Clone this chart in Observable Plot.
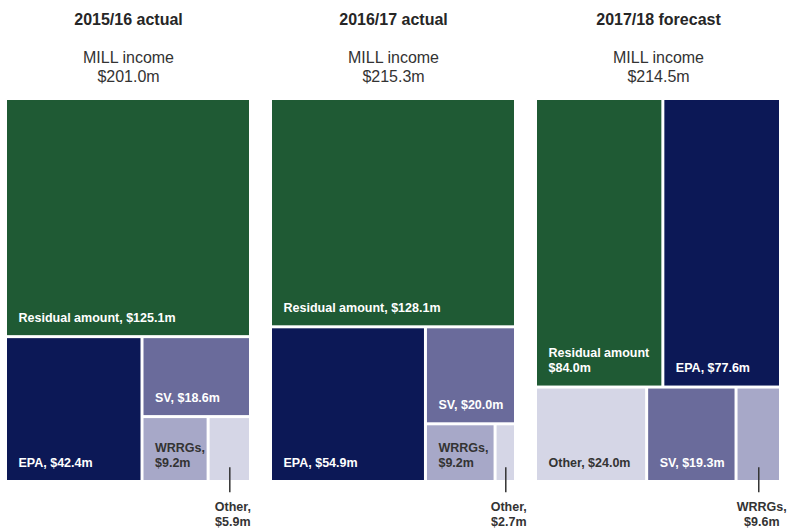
<!DOCTYPE html>
<html>
<head>
<meta charset="utf-8">
<script src="https://cdn.jsdelivr.net/npm/d3@7"></script>
<script src="https://cdn.jsdelivr.net/npm/@observablehq/plot@0.6"></script>
<style>
  body { margin: 0; background: #fff; }
</style>
</head>
<body>
<div id="chart"></div>
<script>
// ---- Data ----
const years = ["2015/16 actual", "2016/17 actual", "2017/18 forecast"];
const totals = ["$201.0m", "$215.3m", "$214.5m"];
const categories = ["Residual amount", "EPA", "SV", "WRRGs", "Other"];

const values1516 = [125.1, 42.4, 18.6, 9.2, 5.9];
const values1617 = [128.1, 54.9, 20.0, 9.2, 2.7];
const values1718 = [84.0, 77.6, 19.3, 9.6, 24.0];

const labels1516 = ["Residual amount, $125.1m", "EPA, $42.4m", "SV, $18.6m", "WRRGs,\n$9.2m", "Other,\n$5.9m"];
const labels1617 = ["Residual amount, $128.1m", "EPA, $54.9m", "SV, $20.0m", "WRRGs,\n$9.2m", "Other,\n$2.7m"];
const labels1718 = ["Residual amount\n$84.0m", "EPA, $77.6m", "SV, $19.3m", "WRRGs,\n$9.6m", "Other, $24.0m"];

// how the cells are grouped in each treemap
const nesting1516 = ["Residual amount", ["EPA", ["SV", ["WRRGs", "Other"]]]];
const nesting1617 = ["Residual amount", ["EPA", ["SV", ["WRRGs", "Other"]]]];
const nesting1718 = [["Residual amount", "EPA"], ["Other", "SV", "WRRGs"]];

// cells labelled outside with a leader line
const callouts = ["Other", "Other", "WRRGs"];

const colors = ["#1f5a34", "#0c1856", "#6a6b9b", "#a7a8c8", "#d5d6e6"];
const lightText = ["Residual amount", "EPA", "SV"];

// ---- Layout (d3 treemap in unit space) ----
const panels = [
  {values: values1516, labels: labels1516, nesting: nesting1516},
  {values: values1617, labels: labels1617, nesting: nesting1617},
  {values: values1718, labels: labels1718, nesting: nesting1718}
];

const tile = (node, x0, y0, x1, y1) =>
  (node.depth & 1 ? d3.treemapDice : d3.treemapSlice)(node, x0, y0, x1, y1);

const cells = [];
panels.forEach((p, i) => {
  const toNode = (item) => typeof item === "string"
    ? {name: item, value: p.values[categories.indexOf(item)], label: p.labels[categories.indexOf(item)]}
    : {children: item.map(toNode)};
  const root = d3.hierarchy(toNode(p.nesting)).sum(d => d.value || 0);
  d3.treemap().tile(tile).size([1, 1]).round(false)(root);
  for (const leaf of root.leaves()) {
    cells.push({
      year: years[i],
      name: leaf.data.name,
      value: leaf.data.value,
      label: leaf.data.label,
      callout: callouts[i] === leaf.data.name,
      x0: leaf.x0, x1: leaf.x1, y0: leaf.y0, y1: leaf.y1,
      xm: (leaf.x0 + leaf.x1) / 2
    });
  }
});

const titles = years.map((y, i) => ({year: y, total: totals[i]}));
const inside = cells.filter(d => !d.callout);
const outside = cells.filter(d => d.callout);

const chart = Plot.plot({
  width: 788,
  height: 529,
  marginLeft: 5.5,
  marginRight: 7.5,
  marginTop: 98.5,
  marginBottom: 47.5,
  style: {fontFamily: "'Liberation Sans', Arial, Helvetica, sans-serif", background: "#fff", overflow: "visible"},
  fx: {domain: years, paddingInner: 20 / 265, paddingOuter: 0, round: false, axis: null, label: null},
  x: {domain: [0, 1], axis: null},
  y: {domain: [0, 1], reverse: true, axis: null},
  color: {domain: categories, range: colors},
  marks: [
    Plot.rect(cells, {fx: "year", x1: "x0", x2: "x1", y1: "y0", y2: "y1", fill: "name", inset: 1.5}),
    Plot.text(inside.filter(d => lightText.includes(d.name)), {
      fx: "year", x: "x0", y: "y1", text: "label", fill: "#ffffff",
      textAnchor: "start", lineAnchor: "bottom", lineHeight: 1.2,
      dx: 12.5, dy: -15.5, fontSize: 12.5, fontWeight: "bold"
    }),
    Plot.text(inside.filter(d => !lightText.includes(d.name)), {
      fx: "year", x: "x0", y: "y1", text: "label", fill: "#333333",
      textAnchor: "start", lineAnchor: "bottom", lineHeight: 1.2,
      dx: 12.5, dy: -15.5, fontSize: 12.5, fontWeight: "bold"
    }),
    Plot.ruleX(outside, {
      fx: "year", x: "xm", y1: "y1", y2: "y1",
      insetTop: -14.2, insetBottom: -10.8, stroke: "#333333", strokeWidth: 1.5
    }),
    Plot.text(outside, {
      fx: "year", x: "xm", y: "y1", text: "label", fill: "#333333",
      textAnchor: "middle", lineAnchor: "bottom", lineHeight: 1.2,
      dx: 3, dy: 43.5, fontSize: 12.5, fontWeight: "bold"
    }),
    Plot.text(titles, {
      fx: "year", frameAnchor: "top", text: "year", fill: "#262626",
      fontSize: 16, fontWeight: "bold", lineAnchor: "bottom", dy: -74.5
    }),
    Plot.text(titles, {
      fx: "year", frameAnchor: "top", text: d => "MILL income\n" + d.total, fill: "#333333",
      fontSize: 16, lineAnchor: "bottom", lineHeight: 1.2, dy: -17
    })
  ]
});

document.getElementById("chart").appendChild(chart);
</script>
</body>
</html>
